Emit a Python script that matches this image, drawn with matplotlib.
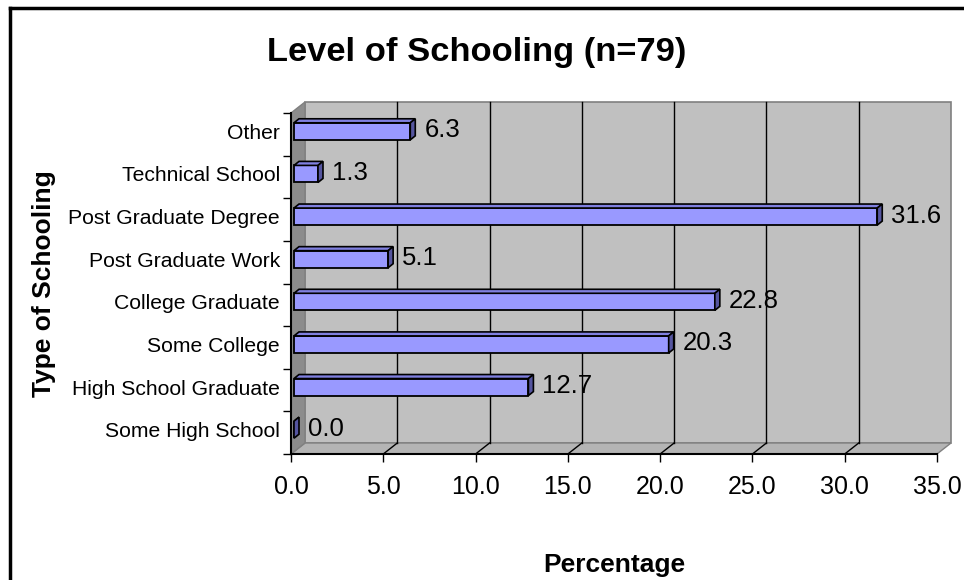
import matplotlib
matplotlib.use('Agg')
import matplotlib.pyplot as plt
from matplotlib.patches import Polygon, Rectangle
from matplotlib.lines import Line2D
import matplotlib.transforms as mtransforms

plt.rcParams['font.family'] = ['Liberation Sans', 'DejaVu Sans']

# data, listed bottom to top
categories = ['Some High School', 'High School Graduate', 'Some College',
              'College Graduate', 'Post Graduate Work', 'Post Graduate Degree',
              'Technical School', 'Other']
percentages = [0.0, 12.7, 20.3, 22.8, 5.1, 31.6, 1.3, 6.3]
x_ticks = [0, 5, 10, 15, 20, 25, 30, 35]

fig = plt.figure(figsize=(9.64, 5.8), dpi=100)
ax = fig.add_axes([291 / 964, 126 / 580, 646 / 964, 341 / 580])
ax.set_xlim(0, 35)
ax.set_ylim(-0.5, len(categories) - 0.5)

# pixel -> data unit conversions for the fake 3D depth
sx = 35 / 646
sy = len(categories) / 341
wdx, wdy = 14 * sx, 11 * sy      # back wall depth
bdx, bdy = 3 * sx, 3 * sy        # bar front offset
ddx, ddy = 5 * sx, 4 * sy        # bar depth
y0, y1 = -0.5, len(categories) - 0.5

# back wall, floor, side wall
ax.add_patch(Rectangle((wdx, y0 + wdy), 35, y1 - y0, fc='#c0c0c0', ec='#808080',
                       lw=1.2, clip_on=False, zorder=0))
ax.add_patch(Polygon([(0, y0), (35, y0), (35 + wdx, y0 + wdy), (wdx, y0 + wdy)],
                     closed=True, fc='#b4b4b4', ec='#808080', lw=1, clip_on=False, zorder=1))
ax.add_patch(Polygon([(0, y0), (0, y1), (wdx, y1 + wdy), (wdx, y0 + wdy)],
                     closed=True, fc='#8c8c8c', ec='#808080', lw=1, clip_on=False, zorder=1))

for xt in x_ticks[1:-1]:
    ax.plot([xt + wdx, xt + wdx], [y0 + wdy, y1 + wdy], color='black', lw=1,
            clip_on=False, zorder=2)
    ax.plot([xt, xt + wdx], [y0, y0 + wdy], color='black', lw=1, clip_on=False, zorder=2)

# bars: front face + top + side
ypos = list(range(len(categories)))
h = 0.4
ax.barh([y + bdy for y in ypos], percentages, height=h, left=bdx, color='#9999ff',
        edgecolor='black', linewidth=1.3, zorder=4, clip_on=False)
for y, v in zip(ypos, percentages):
    yb, yt = y + bdy - h / 2, y + bdy + h / 2
    xl, xr = bdx, bdx + v
    ax.add_patch(Polygon([(xl, yt), (xr, yt), (xr + ddx, yt + ddy), (xl + ddx, yt + ddy)],
                         closed=True, fc='#8080e0', ec='black', lw=1.2, zorder=4, clip_on=False))
    ax.add_patch(Polygon([(xr, yb), (xr + ddx, yb + ddy), (xr + ddx, yt + ddy), (xr, yt)],
                         closed=True, fc='#55559f', ec='black', lw=1.2, zorder=4, clip_on=False))
    ax.annotate(f'{v:.1f}', xy=(v, y), xytext=(17, 4), textcoords='offset pixels',
                ha='left', va='center', fontsize=18.5, zorder=5)

# axes styling
for s in ['top', 'right']:
    ax.spines[s].set_visible(False)
for s in ['left', 'bottom']:
    ax.spines[s].set_color('black')
    ax.spines[s].set_linewidth(1.5)
    ax.spines[s].set_zorder(6)
ax.set_facecolor('none')

ax.set_xticks(x_ticks)
ax.set_xticklabels([f'{t:.1f}' for t in x_ticks], fontsize=18)
ax.tick_params(axis='x', length=6, width=1, pad=9, direction='out')

ax.set_yticks([y - 0.5 for y in ypos] + [y1])
ax.set_yticklabels([])
ax.set_yticks(ypos, minor=True)
ax.set_yticklabels(categories, minor=True, fontsize=15.2)
ax.tick_params(axis='y', which='major', length=6, width=1, direction='out')
ax.tick_params(axis='y', which='minor', length=0, pad=8)
shift = mtransforms.ScaledTranslation(0, 3 / 100, fig.dpi_scale_trans)
for lbl in ax.get_yticklabels(minor=True):
    lbl.set_transform(lbl.get_transform() + shift)

ax.set_xlabel('Percentage', fontsize=19, fontweight='bold', labelpad=39)
ax.set_ylabel('Type of Schooling', fontsize=19, fontweight='bold', labelpad=9)
fig.text(477 / 964, 1 - 52 / 580, 'Level of Schooling (n=79)', ha='center', va='center',
         fontsize=24.8, fontweight='bold')

# chart area border (only left and top edges fall inside the image)
fig.add_artist(Line2D([10 / 964, 1.0], [1 - 8 / 580, 1 - 8 / 580], color='black', lw=2.5,
                      transform=fig.transFigure))
fig.add_artist(Line2D([10 / 964, 10 / 964], [0, 1 - 8 / 580], color='black', lw=2.5,
                      transform=fig.transFigure))

fig.savefig('out.png', dpi=100, facecolor='white')
